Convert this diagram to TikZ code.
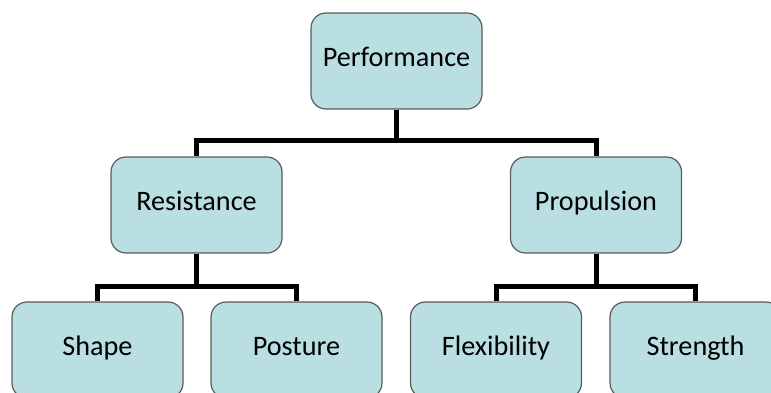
\documentclass[tikz,border=0pt]{standalone}
\usepackage{fontspec}
\setmainfont{Carlito}
\usepackage{tikz}
\usetikzlibrary{calc}
\definecolor{boxfill}{RGB}{185,223,227}
\definecolor{boxline}{RGB}{90,90,90}

\begin{document}
\begin{tikzpicture}[x=1pt,y=1pt,
	box/.style={draw=boxline, line width=1.2pt, fill=boxfill, rounded corners=15pt,
		minimum width=171pt, minimum height=96pt, text height=18pt, text depth=8pt,
		font=\fontsize{28.2}{30}\selectfont},
	elbow/.style={to path={-- ++(0,-#1) -| (\tikztotarget)}}]
	\useasboundingbox (0,0) rectangle (771,-392);
	% top level
	\node[box] (perf) at (396.5,-61) {Performance};
	% second level
	\node[box] (res) at (196.5,-205) {Resistance};
	\node[box] (prop) at (596,-205) {Propulsion};
	% third level
	\node[box] (shape) at (97.5,-350) {Shape};
	\node[box] (post) at (296.5,-350) {Posture};
	\node[box] (flex) at (496,-350) {Flexibility};
	\node[box] (str) at (695.5,-350) {Strength};
	\path[line width=5pt]
	(perf.south) edge[elbow=31] (res.north)
	edge[elbow=31] (prop.north)
	(res.south) edge[elbow=33] (shape.north)
	edge[elbow=33] (post.north)
	(prop.south) edge[elbow=33] (flex.north)
	edge[elbow=33] (str.north)
	;
\end{tikzpicture}
\end{document}
